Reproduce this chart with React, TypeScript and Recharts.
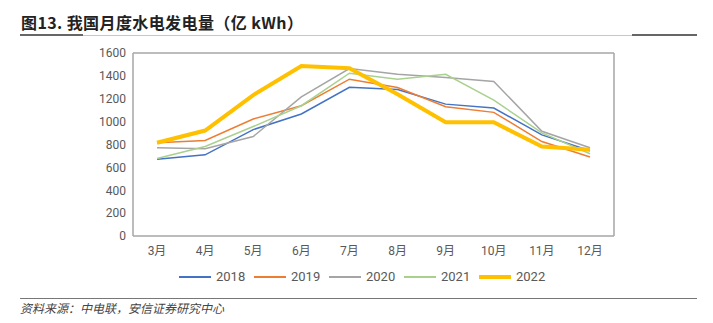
import { LineChart, Line, XAxis, YAxis } from 'recharts';

const months = ['3月', '4月', '5月', '6月', '7月', '8月', '9月', '10月', '11月', '12月'];
const y2018 = [670, 710, 930, 1067, 1300, 1280, 1153, 1119, 884, 745];
const y2019 = [815, 835, 1023, 1139, 1371, 1298, 1130, 1081, 826, 690];
const y2020 = [771, 762, 870, 1217, 1464, 1414, 1386, 1351, 916, 771];
const y2021 = [678, 783, 957, 1139, 1423, 1371, 1414, 1188, 901, 719];
const y2022 = [815, 922, 1232, 1487, 1467, 1240, 994, 994, 783, 754];
const yTicks = [0, 200, 400, 600, 800, 1000, 1200, 1400, 1600];

const series = [
  { key: '2018', values: y2018, color: '#4472C4', width: 1.5 },
  { key: '2019', values: y2019, color: '#ED7D31', width: 1.5 },
  { key: '2020', values: y2020, color: '#A5A5A5', width: 1.5 },
  { key: '2021', values: y2021, color: '#A9D18E', width: 1.5 },
  { key: '2022', values: y2022, color: '#FFC000', width: 4 },
];

const data = months.map((m, i) => {
  const row: Record<string, string | number> = { month: m };
  series.forEach((s) => {
    row[s.key] = s.values[i];
  });
  return row;
});

const tickStyle = { fontFamily: 'Roboto, "Noto Sans CJK SC"', fontSize: 12, fill: '#595959' };
const border = '#a6a6a6';

export default function App() {
  return (
    <div
      style={{
        position: 'absolute',
        left: 0,
        top: 0,
        width: 713,
        height: 323,
        background: '#fff',
        fontFamily: '"Noto Sans CJK SC", sans-serif',
      }}
    >
      <div
        style={{
          position: 'absolute',
          left: 21,
          top: 10,
          fontSize: 16,
          fontWeight: 700,
          letterSpacing: 0.4,
          color: '#222',
          whiteSpace: 'nowrap',
        }}
      >
        图13. 我国月度水电发电量（亿 kWh）
      </div>
      <div style={{ position: 'absolute', left: 20, top: 35, width: 677, height: 1, background: '#c8c8c8' }} />
      <div style={{ position: 'absolute', left: 20, top: 34, width: 63, height: 2, background: '#666' }} />
      <div style={{ position: 'absolute', left: 632, top: 34, width: 65, height: 2, background: '#666' }} />

      <div style={{ position: 'absolute', left: 0, top: 0 }}>
        <LineChart width={713} height={323} data={data} margin={{ top: 52, right: 98, bottom: 57, left: 90 }}>
          <XAxis
            dataKey="month"
            tick={tickStyle}
            stroke={border}
            axisLine={{ stroke: border, strokeWidth: 1.5 }}
            tickLine={false}
            tickSize={0}
            tickMargin={10}
            height={30}
            padding={{ left: 24, right: 24 }}
            interval={0}
          />
          <XAxis
            xAxisId="top"
            dataKey="month"
            orientation="top"
            tick={false}
            tickLine={false}
            stroke={border}
            axisLine={{ stroke: border, strokeWidth: 1.5 }}
            height={1}
          />
          <YAxis
            domain={[0, 1600]}
            ticks={yTicks}
            tick={tickStyle}
            stroke={border}
            axisLine={{ stroke: border, strokeWidth: 1.5 }}
            tickLine={false}
            tickSize={0}
            tickMargin={7}
            width={43}
            interval={0}
          />
          <YAxis
            yAxisId="right"
            orientation="right"
            domain={[0, 1600]}
            tick={false}
            tickLine={false}
            stroke={border}
            axisLine={{ stroke: border, strokeWidth: 1.5 }}
            width={1}
          />
          {series.map((s) => (
            <Line
              key={s.key}
              dataKey={s.key}
              stroke={s.color}
              strokeWidth={s.width}
              dot={false}
              type="linear"
              isAnimationActive={false}
            />
          ))}
        </LineChart>
      </div>

      {series.map((s, i) => (
        <div
          key={s.key}
          style={{
            position: 'absolute',
            left: 179 + i * 75,
            top: 269,
            display: 'flex',
            alignItems: 'center',
            gap: 5,
            fontFamily: 'Roboto, sans-serif',
            fontSize: 13,
            color: '#595959',
          }}
        >
          <span style={{ display: 'inline-block', width: 32, height: s.width > 2 ? 4 : 2, background: s.color }} />
          <span>{s.key}</span>
        </div>
      ))}

      <div style={{ position: 'absolute', left: 20, top: 298, width: 677, height: 1, background: '#777' }} />
      <div
        style={{
          position: 'absolute',
          left: 20,
          top: 299,
          fontSize: 12,
          fontStyle: 'italic',
          color: '#444',
          whiteSpace: 'nowrap',
        }}
      >
        资料来源：中电联，安信证券研究中心
      </div>
    </div>
  );
}
